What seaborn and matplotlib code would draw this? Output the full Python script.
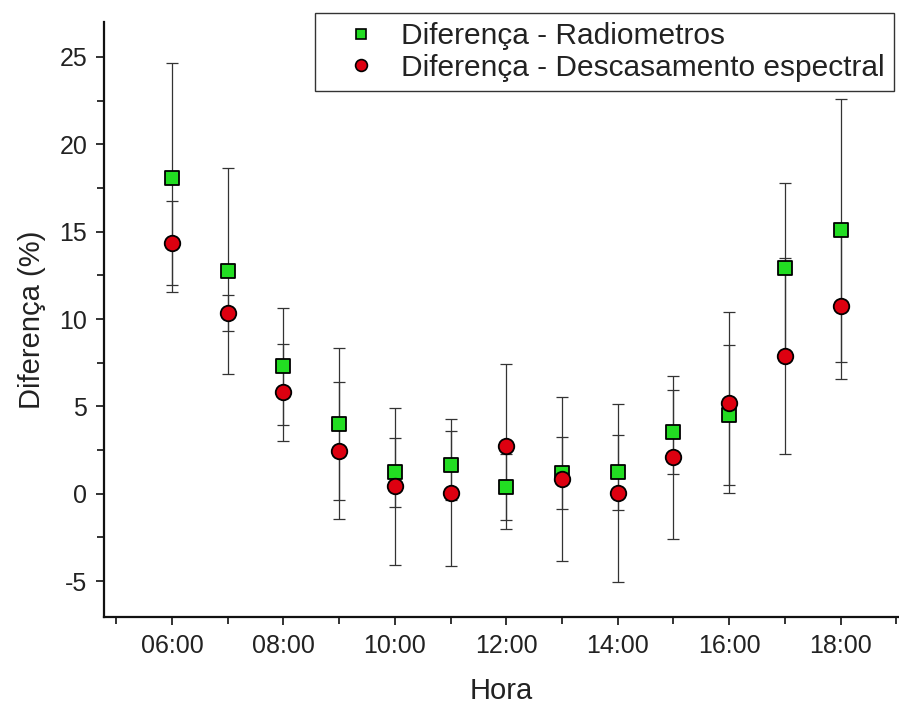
import numpy as np
import pandas as pd
import seaborn as sns
from matplotlib import pyplot as plt
from matplotlib.lines import Line2D
from matplotlib.ticker import MultipleLocator, FuncFormatter

# hours of the day (06:00 .. 18:00)
hours = [6, 7, 8, 9, 10, 11, 12, 13, 14, 15, 16, 17, 18]

# Diferença - Radiometros
rad = [18.1, 12.73, 7.3, 3.98, 1.22, 1.62, 0.38, 1.2, 1.22, 3.55, 4.5, 12.95, 15.08]
rad_err = [6.57, 5.9, 3.34, 4.34, 2.0, 2.0, 1.9, 2.05, 2.16, 2.4, 4.0, 4.83, 7.52]

# Diferença - Descasamento espectral
desc = [14.33, 10.34, 5.8, 2.46, 0.42, 0.06, 2.71, 0.84, 0.06, 2.1, 5.22, 7.9, 10.76]
desc_err = [2.4, 1.02, 2.75, 3.91, 4.5, 4.2, 4.7, 4.7, 5.1, 4.66, 5.2, 5.6, 4.18]

labels = ['Diferença - Radiometros', 'Diferença - Descasamento espectral']
colors = ['#22DD22', '#DD0010']

sns.set_theme(style='ticks')
plt.rcParams['font.family'] = ['Liberation Sans', 'DejaVu Sans']
plt.rcParams['axes.unicode_minus'] = False

df = pd.DataFrame({
    'Hora': hours * 2,
    'Diferença': rad + desc,
    'erro': rad_err + desc_err,
    'serie': [labels[0]] * len(hours) + [labels[1]] * len(hours),
})

fig = plt.figure(figsize=(8.99, 7.07), dpi=100)
ax = fig.add_axes([104 / 899, 1 - 617 / 707, (899 - 104) / 899, (617 - 22) / 707])

# error bars first, markers on top
for lab in labels:
    sub = df[df['serie'] == lab]
    ax.errorbar(sub['Hora'], sub['Diferença'], yerr=sub['erro'], fmt='none',
                ecolor='#333333', elinewidth=0.9, capsize=4.3, capthick=0.9, zorder=1)

sns.scatterplot(data=df[df['serie'] == labels[0]], x='Hora', y='Diferença', ax=ax,
                marker='s', s=88, color=colors[0], edgecolor='black', linewidth=1.3,
                zorder=3, legend=False)
sns.scatterplot(data=df[df['serie'] == labels[1]], x='Hora', y='Diferença', ax=ax,
                marker='o', s=125, color=colors[1], edgecolor='black', linewidth=1.3,
                zorder=4, legend=False)

ax.set_xlim(4.78, 19.05)
ax.set_ylim(-7.05, 27.0)

ax.xaxis.set_major_locator(MultipleLocator(2))
ax.xaxis.set_minor_locator(MultipleLocator(1))
ax.xaxis.set_major_formatter(FuncFormatter(lambda v, p: '%02d:00' % int(round(v))))
ax.yaxis.set_major_locator(MultipleLocator(5))
ax.yaxis.set_minor_locator(MultipleLocator(2.5))

ax.tick_params(which='major', direction='out', length=6, width=1.2, colors='#111111',
               labelsize=18, labelcolor='#222222', pad=6)
ax.tick_params(which='minor', direction='out', length=5, width=1.2, colors='#111111')

for side in ['top', 'right']:
    ax.spines[side].set_visible(False)
for side in ['left', 'bottom']:
    ax.spines[side].set_linewidth(1.6)
    ax.spines[side].set_color('#111111')

ax.set_xlabel('Hora', fontsize=21, color='#222222', labelpad=14)
ax.set_ylabel('Diferença (%)', fontsize=21, color='#222222', labelpad=10)

handles = [
    Line2D([], [], linestyle='none', marker='s', markersize=7.5, markerfacecolor=colors[0],
           markeredgecolor='black', markeredgewidth=1.2),
    Line2D([], [], linestyle='none', marker='o', markersize=8.5, markerfacecolor=colors[1],
           markeredgecolor='black', markeredgewidth=1.2),
]
leg = ax.legend(handles, labels, loc='upper right',
                bbox_to_anchor=((894 - 104) / 795, (617 - 13) / 595), borderaxespad=0,
                fontsize=21.5, frameon=True, fancybox=False, framealpha=1,
                edgecolor='#333333', labelspacing=0.12, handletextpad=0.1,
                borderpad=0.3, handlelength=2.5)
leg.get_frame().set_linewidth(1.0)
for t in leg.get_texts():
    t.set_color('#222222')

plt.savefig('out.png', dpi=100)
plt.close()
